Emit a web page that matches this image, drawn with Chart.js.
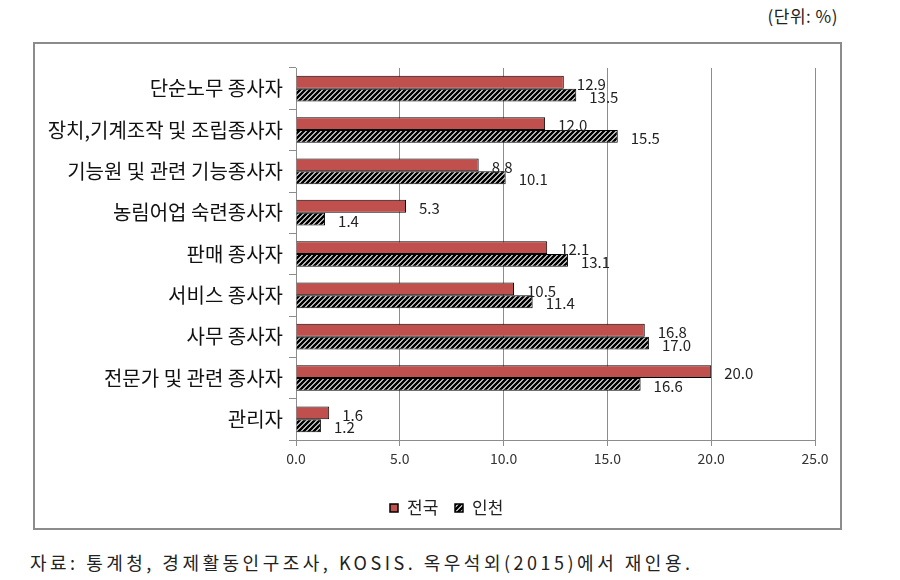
<!DOCTYPE html>
<html>
<head>
<meta charset="utf-8">
<script src="https://cdn.jsdelivr.net/npm/chart.js@4"></script>
<style>
  body { margin: 0; background: #fff; }
  #wrap { position: relative; width: 900px; height: 580px; }
  #box { position: absolute; left: 33px; top: 42px; width: 805px; height: 484px; border: 2px solid #8c8c8c; }
  #unit { position: absolute; right: 62px; top: 3px; font: 17px "Noto Sans CJK KR", "DejaVu Serif", serif; color: #222; letter-spacing: 0.5px; }
  #src { position: absolute; left: 30px; top: 549px; font: 18px "Noto Sans CJK KR", "DejaVu Serif", serif; color: #222; letter-spacing: 3.5px; }
  canvas { position: absolute; left: 0; top: 0; }
</style>
</head>
<body>
<div id="wrap">
  <div id="box"></div>
  <div id="unit">(단위: %)</div>
  <div id="src">자료: 통계청, 경제활동인구조사, KOSIS. 옥우석외(2015)에서 재인용.</div>
  <canvas id="chart" width="900" height="580"></canvas>
</div>
<script>
// occupation share, nationwide vs Incheon
const labels = ["단순노무 종사자", "장치,기계조작 및 조립종사자", "기능원 및 관련 기능종사자", "농림어업 숙련종사자",
  "판매 종사자", "서비스 종사자", "사무 종사자", "전문가 및 관련 종사자", "관리자"];
const nationData = [12.9, 12.0, 8.8, 5.3, 12.1, 10.5, 16.8, 20.0, 1.6];
const incheonData = [13.5, 15.5, 10.1, 1.4, 13.1, 11.4, 17.0, 16.6, 1.2];
const xTicks = [0, 5, 10, 15, 20, 25];

const FONT = '"Noto Sans CJK KR", "Noto Sans", sans-serif';

// diagonal hatch fill
function hatch() {
  const c = document.createElement("canvas");
  c.width = 5; c.height = 5;
  const g = c.getContext("2d");
  g.fillStyle = "#fff";
  g.fillRect(0, 0, 5, 5);
  g.strokeStyle = "#000";
  g.lineWidth = 2.6;
  g.beginPath();
  g.moveTo(-1, 6); g.lineTo(6, -1);
  g.moveTo(-1, 1); g.lineTo(1, -1);
  g.moveTo(4, 6); g.lineTo(6, 4);
  g.stroke();
  return g.createPattern(c, "repeat");
}
const hatchFill = hatch();

const valueLabels = {
  id: "valueLabels",
  afterDatasetsDraw(chart) {
    const ctx = chart.ctx;
    ctx.save();
    ctx.font = "15px " + FONT;
    ctx.fillStyle = "#222";
    ctx.textBaseline = "middle";
    chart.data.datasets.forEach((ds, i) => {
      chart.getDatasetMeta(i).data.forEach((bar, j) => {
        ctx.fillText(ds.data[j].toFixed(1), bar.x + 13, bar.y + 2);
      });
    });
    ctx.restore();
  }
};

const legendBox = {
  id: "legendBox",
  afterDraw(chart) {
    const ctx = chart.ctx;
    ctx.save();
    ctx.font = "17px " + FONT;
    ctx.textBaseline = "middle";
    const items = [["전국", "#c0504d", 390], ["인천", hatchFill, 455]];
    items.forEach(([txt, fill, x]) => {
      ctx.fillStyle = fill;
      ctx.fillRect(x, 504, 8, 8);
      ctx.strokeStyle = "#000";
      ctx.lineWidth = 1.5;
      ctx.strokeRect(x, 504, 8, 8);
      ctx.fillStyle = "#222";
      ctx.fillText(txt, x + 17, 508);
    });
    ctx.restore();
  }
};

new Chart(document.getElementById("chart"), {
  type: "bar",
  data: {
    labels,
    datasets: [
      { label: "전국", data: nationData, backgroundColor: "#c0504d", borderColor: "#000", borderWidth: 1 },
      { label: "인천", data: incheonData, backgroundColor: hatchFill, borderColor: "#000", borderWidth: 1 }
    ]
  },
  options: {
    indexAxis: "y",
    responsive: false,
    animation: false,
    datasets: { bar: { categoryPercentage: 0.62, barPercentage: 1.0 } },
    layout: { padding: { left: 0, top: 68, right: 85, bottom: 0 } },
    plugins: { legend: { display: false }, tooltip: { enabled: false } },
    scales: {
      x: {
        min: 0, max: 25,
        afterBuildTicks(s) { s.ticks = xTicks.map(v => ({ value: v })); },
        afterFit(s) { s.height = 140; },
        grid: { color: "#8c8c8c", tickLength: 6 },
        border: { color: "#8c8c8c" },
        ticks: { color: "#333", font: { family: FONT, size: 14 }, padding: 4, callback: v => v.toFixed(1) }
      },
      y: {
        afterFit(s) { s.width = 296; },
        grid: { drawOnChartArea: false, color: "#8c8c8c", tickLength: 7 },
        border: { color: "#8c8c8c" },
        ticks: { color: "#111", font: { family: FONT, size: 20 }, padding: 6 }
      }
    }
  },
  plugins: [valueLabels, legendBox]
});
</script>
</body>
</html>
